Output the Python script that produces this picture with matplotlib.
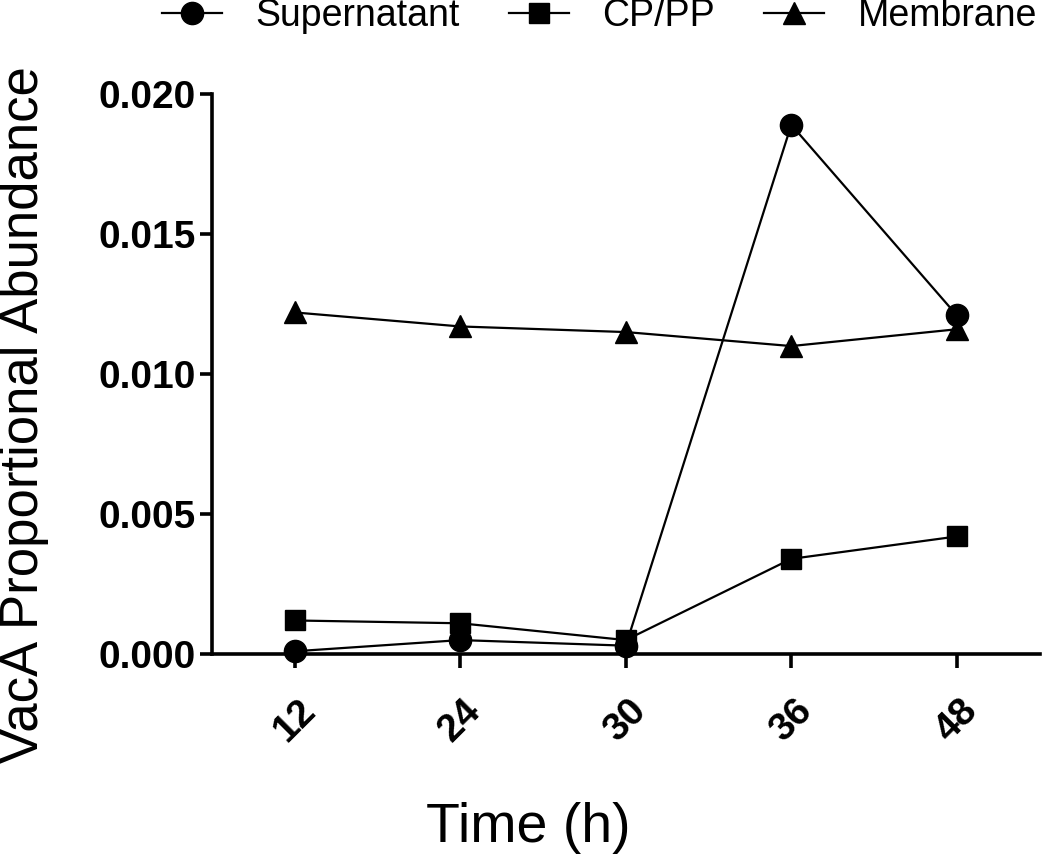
import matplotlib
matplotlib.use("Agg")
import matplotlib.pyplot as plt
import numpy as np

plt.rcParams['font.family'] = ['Liberation Sans', 'DejaVu Sans']

time_labels = ["12", "24", "30", "36", "48"]
supernatant = [0.0001, 0.0005, 0.0003, 0.0189, 0.0121]
cp_pp = [0.0012, 0.0011, 0.0005, 0.0034, 0.0042]
membrane = [0.0122, 0.0117, 0.0115, 0.0110, 0.0116]

W, H = 1050, 855
fig = plt.figure(figsize=(W / 100, H / 100), dpi=100)
ax = fig.add_axes([0.202, 0.235, 0.788, 0.655])

x = np.arange(len(time_labels))
lw = 1.6
ms = 16
h1, = ax.plot(x, supernatant, '-o', color='black', lw=lw, ms=ms, label='Supernatant', clip_on=False, zorder=3)
h2, = ax.plot(x, cp_pp, '-s', color='black', lw=lw, ms=ms - 1, label='CP/PP', clip_on=False, zorder=3)
h3, = ax.plot(x, membrane, '-^', color='black', lw=lw, ms=ms, label='Membrane', clip_on=False, zorder=3)

ax.set_xlim(-0.5, 4.5)
ax.set_ylim(0, 0.020)
ax.set_yticks([0, 0.005, 0.010, 0.015, 0.020])
ax.set_yticklabels(["0.000", "0.005", "0.010", "0.015", "0.020"], fontweight='bold', fontsize=28)
ax.set_xticks(x)
ax.set_xticklabels(time_labels, fontweight='bold', fontsize=28, rotation=45, ha='center', va='top')

for s in ['top', 'right']:
    ax.spines[s].set_visible(False)
for s in ['left', 'bottom']:
    ax.spines[s].set_linewidth(2.6)

ax.tick_params(axis='y', direction='out', length=9, width=2.6, pad=3)
ax.tick_params(axis='x', direction='out', length=10, width=2.6, pad=18)

fig.text(24 / W, 1 - 415 / H, "VacA Proportional Abundance", fontsize=38,
         rotation=90, ha='center', va='center')
fig.text(528 / W, 1 - 828 / H, "Time (h)", fontsize=40, ha='center', va='center')

fig.legend(handles=[h1, h2, h3], loc='center', bbox_to_anchor=(0.571, 1 - 16 / H),
           ncol=3, frameon=False, fontsize=27, handlelength=1.6, handletextpad=0.9,
           columnspacing=1.3, markerscale=1.0, borderpad=0, borderaxespad=0)

fig.savefig("out.png", dpi=100)
